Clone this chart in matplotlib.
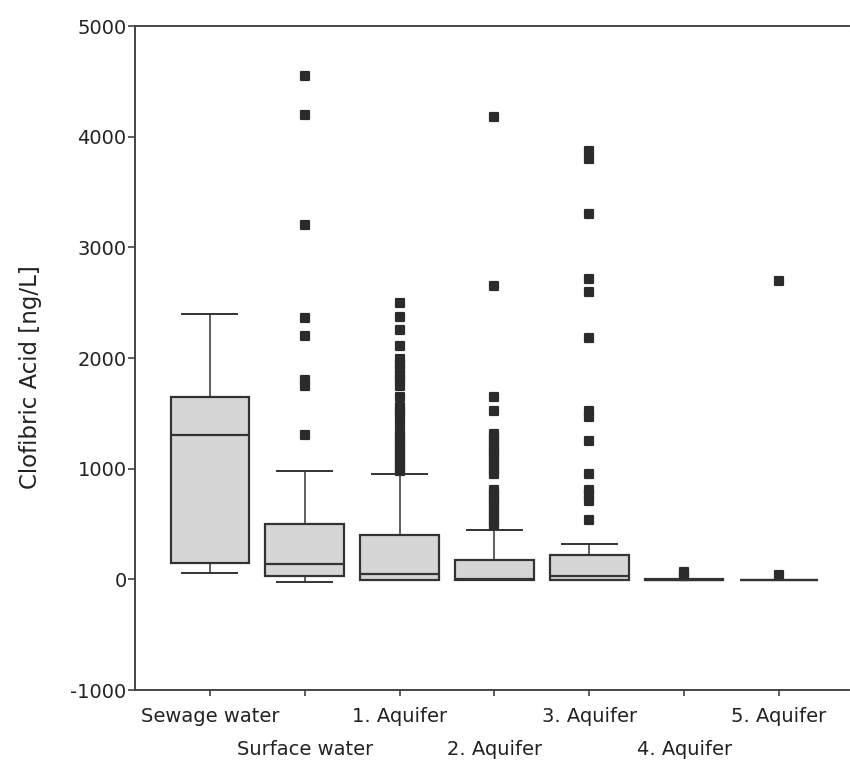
import matplotlib
matplotlib.use("Agg")
import matplotlib.pyplot as plt
from matplotlib.markers import MarkerStyle

categories = ["Sewage water", "Surface water", "1. Aquifer", "2. Aquifer",
              "3. Aquifer", "4. Aquifer", "5. Aquifer"]
whislo = [60, -20, -10, -10, -10, -10, -5]
q1 = [150, 30, -10, -10, -10, -10, -5]
med = [1300, 135, 45, 5, 30, -5, -5]
q3 = [1650, 500, 400, 175, 220, 0, -5]
whishi = [2400, 980, 950, 445, 320, 0, -5]
fliers = [
    [],
    [4550, 4200, 3200, 2360, 2200, 1800, 1750, 1300],
    [2500, 2370, 2250, 2110, 1990, 1950, 1900, 1850, 1810, 1750, 1650, 1560,
     1520, 1480, 1410, 1330, 1290, 1250, 1210, 1170, 1130, 1090, 1050, 1010, 975],
    [4180, 2650, 1650, 1520, 1310, 1270, 1230, 1190, 1150, 1110, 1070, 1030,
     990, 950, 810, 770, 730, 690, 650, 610, 570, 530, 490],
    [3870, 3800, 3300, 2710, 2600, 2180, 1520, 1470, 1250, 950, 810, 760, 710, 540],
    [70, 30],
    [2700, 40],
]
yticks = [-1000, 0, 1000, 2000, 3000, 4000, 5000]

plt.rcParams['font.family'] = ['DejaVu Sans']

fig = plt.figure(figsize=(8.5, 7.66), dpi=100)
ax = fig.add_axes([135/850, 1 - 690/766, 1 - 135/850 - 0.001, (690 - 26)/766])

stats = []
for i, c in enumerate(categories):
    stats.append(dict(label=c, whislo=whislo[i], q1=q1[i], med=med[i],
                      q3=q3[i], whishi=whishi[i], fliers=fliers[i]))

edge = '#333333'
mk = MarkerStyle('s', joinstyle='round')
ax.bxp(stats, positions=range(len(categories)), widths=0.83,
       patch_artist=True, showfliers=True,
       boxprops=dict(facecolor='#d6d6d6', edgecolor=edge, linewidth=1.6),
       medianprops=dict(color=edge, linewidth=1.6),
       whiskerprops=dict(color=edge, linewidth=1.1),
       capprops=dict(color=edge, linewidth=1.4),
       capwidths=0.58,
       flierprops=dict(marker=mk, markersize=6, markerfacecolor='#2b2b2b',
                       markeredgecolor='#2b2b2b', markeredgewidth=1.6,
                       linestyle='none'))

ax.set_xlim(-0.79, 6.74)
ax.set_ylim(-1000, 5000)
ax.set_yticks(yticks)
ax.set_yticklabels([str(v) for v in yticks], fontsize=14, color='#222222')
ax.set_xticks(range(len(categories)))
ax.set_xticklabels(categories, fontsize=14, color='#222222')
for i, t in enumerate(ax.xaxis.get_major_ticks()):
    t.set_pad(8 if i % 2 == 0 else 32)

ax.tick_params(axis='y', direction='out', length=5, width=1.1, color=edge, pad=1)
ax.tick_params(axis='x', direction='out', length=4, width=1.1, color=edge)

for s in ['left', 'bottom', 'top']:
    ax.spines[s].set_color('#444444')
    ax.spines[s].set_linewidth(1.4)
ax.spines['right'].set_visible(False)

ax.set_ylabel('Clofibric Acid [ng/L]', fontsize=16.5, color='#222222')
ax.yaxis.set_label_coords(-0.13, 0.471)

fig.savefig('out.png', dpi=100, facecolor='white')
